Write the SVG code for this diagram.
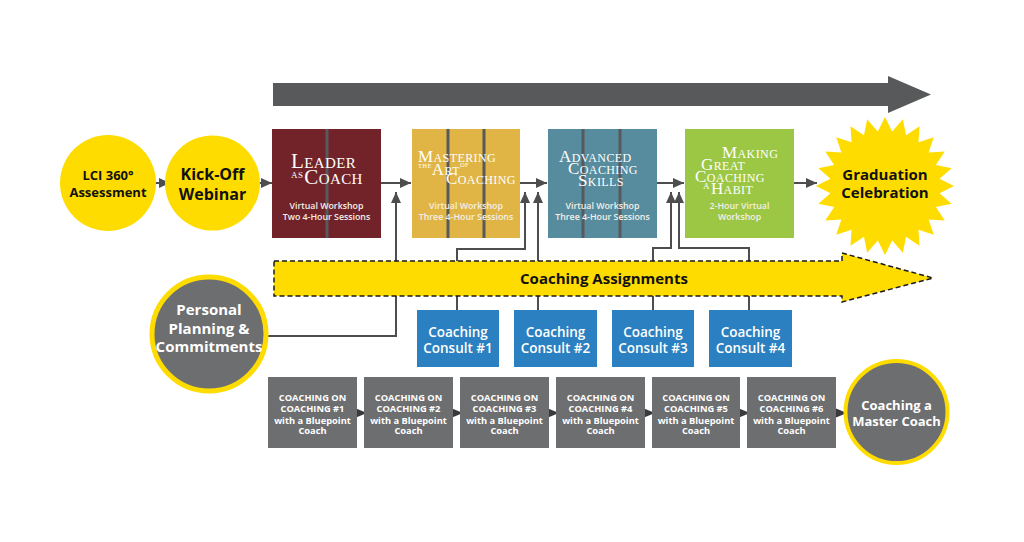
<svg xmlns="http://www.w3.org/2000/svg" width="1024" height="542" viewBox="0 0 1024 542">
<defs>
<marker id="ah" markerUnits="userSpaceOnUse" markerWidth="12" markerHeight="10" refX="11" refY="5" orient="auto">
<path d="M0,0 L11,5 L0,10 Z" fill="#4d4d4f"/>
</marker>
<marker id="ahs" markerUnits="userSpaceOnUse" markerWidth="12" markerHeight="10" refX="11" refY="5" orient="auto">
<path d="M0,0.5 L11,5 L0,9.5 Z" fill="#3a3a3c"/>
</marker>
<style>
.con{fill:none;stroke:#4d4d4f;stroke-width:2;}
.cs{fill:none;stroke:#3a3a3c;stroke-width:2;}
.sans{font-family:"Open Sans","DejaVu Sans",sans-serif;font-weight:700;}
.blk{fill:#111;}
.wht{fill:#fff;}
.sub{font-family:"Open Sans","DejaVu Sans",sans-serif;font-weight:600;font-size:8.8px;fill:#f4efe8;text-anchor:middle;}
.ttl{font-family:"Liberation Serif","Times New Roman",serif;fill:#fff;letter-spacing:0.4px;}
.big{font-size:17px;}
.sm{font-size:12px;}
.tiny{font-size:6.5px;}
.div{stroke:#58595b;stroke-width:3;}
.gb{fill:#6d6e70;}
.gt{font-family:"Open Sans","DejaVu Sans",sans-serif;font-weight:700;font-size:9.3px;fill:#fff;text-anchor:middle;}
.cb{fill:#2a80c0;}
.ct{font-family:"Open Sans","DejaVu Sans",sans-serif;font-weight:600;font-size:13.5px;fill:#fff;text-anchor:middle;}
</style>
</defs>
<rect width="1024" height="542" fill="#fff"/>

<g id="timeline">
<polygon points="273,83 888,83 888,76 931,94.5 888,113 888,106 273,106" fill="#58595b"/>
</g>

<g id="connectors">
<path class="con" d="M152,183 H170" marker-end="url(#ah)"/>
<path class="con" d="M256,183 H272" marker-end="url(#ah)"/>
<path class="con" d="M381,183 H411" marker-end="url(#ah)"/>
<path class="con" d="M520,183 H547" marker-end="url(#ah)"/>
<path class="con" d="M657,183 H684" marker-end="url(#ah)"/>
<path class="con" d="M794,183 H817" marker-end="url(#ah)"/>
<path class="con" d="M268,336 H396 V192" marker-end="url(#ah)"/>
<path class="con" d="M457,310 V249 H525 V192" marker-end="url(#ah)"/>
<path class="con" d="M538,310 V192" marker-end="url(#ah)"/>
<path class="con" d="M653,310 V248 H671 V192" marker-end="url(#ah)"/>
<path class="con" d="M749,310 V248 H679 V192" marker-end="url(#ah)"/>
<path class="cs" d="M352,413 H367" marker-end="url(#ahs)"/>
<path class="cs" d="M448,413 H463" marker-end="url(#ahs)"/>
<path class="cs" d="M544,413 H559" marker-end="url(#ahs)"/>
<path class="cs" d="M640,413 H655" marker-end="url(#ahs)"/>
<path class="cs" d="M735,413 H750" marker-end="url(#ahs)"/>
<path class="cs" d="M832,413 H847" marker-end="url(#ahs)"/>
</g>

<g id="lci">
<circle cx="108" cy="183" r="48" fill="#ffdc00"/>
<text class="sans blk" font-size="13" text-anchor="middle" x="108" y="180">LCI 360°</text>
<text class="sans blk" font-size="13" text-anchor="middle" x="108" y="197">Assessment</text>
</g>

<g id="kickoff">
<circle cx="212.5" cy="183" r="47.5" fill="#ffdc00"/>
<text class="sans blk" font-size="16" text-anchor="middle" x="212.5" y="180">Kick-Off</text>
<text class="sans blk" font-size="16" text-anchor="middle" x="212.5" y="200">Webinar</text>
</g>

<g id="leader">
<rect x="272" y="129" width="109" height="109" fill="#72232a"/>
<line class="div" x1="327" y1="129" x2="327" y2="238"/>
<text class="ttl"><tspan x="291" y="168" font-size="21">L</tspan><tspan font-size="15">EADER</tspan><tspan x="291" y="178" font-size="9">AS</tspan><tspan font-size="21" dx="1" y="184">C</tspan><tspan font-size="15">OACH</tspan></text>
<text class="sub"><tspan x="326.5" y="209">Virtual Workshop</tspan><tspan x="326.5" y="220">Two 4-Hour Sessions</tspan></text>
</g>

<g id="mastering">
<rect x="412" y="129" width="108" height="109" fill="#e0b545"/>
<line class="div" x1="448" y1="129" x2="448" y2="238"/>
<line class="div" x1="484" y1="129" x2="484" y2="238"/>
<text class="ttl"><tspan class="big" x="418" y="162">M</tspan><tspan class="sm">ASTERING</tspan><tspan class="tiny" x="418" y="168">THE</tspan><tspan class="big" y="175">A</tspan><tspan class="sm">RT</tspan><tspan class="tiny" y="167">OF</tspan><tspan class="big" x="446" y="184">C</tspan><tspan class="sm">OACHING</tspan></text>
<text class="sub"><tspan x="466" y="209">Virtual Workshop</tspan><tspan x="466" y="220">Three 4-Hour Sessions</tspan></text>
</g>

<g id="advanced">
<rect x="548" y="129" width="109" height="109" fill="#568c9d"/>
<line class="div" x1="583" y1="129" x2="583" y2="238"/>
<line class="div" x1="620" y1="129" x2="620" y2="238"/>
<text class="ttl"><tspan class="big" x="559" y="162">A</tspan><tspan class="sm">DVANCED</tspan><tspan class="big" x="568" y="174">C</tspan><tspan class="sm">OACHING</tspan><tspan class="big" x="578" y="186">S</tspan><tspan class="sm">KILLS</tspan></text>
<text class="sub"><tspan x="602.5" y="209">Virtual Workshop</tspan><tspan x="602.5" y="220">Three 4-Hour Sessions</tspan></text>
</g>

<g id="making">
<rect x="685" y="129" width="109" height="109" fill="#9cc744"/>
<text class="ttl"><tspan class="big" x="722" y="158">M</tspan><tspan class="sm">AKING</tspan><tspan class="big" x="701" y="170">G</tspan><tspan class="sm">REAT</tspan><tspan class="big" x="695" y="182">C</tspan><tspan class="sm">OACHING</tspan><tspan font-size="9" x="703" y="189">A</tspan><tspan class="big" dx="1" y="194">H</tspan><tspan class="sm">ABIT</tspan></text>
<text class="sub"><tspan x="739.5" y="209">2-Hour Virtual</tspan><tspan x="739.5" y="220">Workshop</tspan></text>
</g>

<g id="graduation">
<polygon fill="#ffdc00" points="954,186 939.53,193.18 951.65,203.86 935.81,207.05 944.76,220.5 928.63,219.48 933.79,234.79 918.48,229.63 919.5,245.76 906.05,236.81 902.86,252.65 892.18,240.53 885,255 877.82,240.53 867.14,252.65 863.95,236.81 850.5,245.76 851.52,229.63 836.21,234.79 841.37,219.48 825.24,220.5 834.19,207.05 818.35,203.86 830.47,193.18 816,186 830.47,178.82 818.35,168.14 834.19,164.95 825.24,151.5 841.37,152.52 836.21,137.21 851.52,142.37 850.5,126.24 863.95,135.19 867.14,119.35 877.82,131.47 885,117 892.18,131.47 902.86,119.35 906.05,135.19 919.5,126.24 918.48,142.37 933.79,137.21 928.63,152.52 944.76,151.5 935.81,164.95 951.65,168.14 939.53,178.82"/>
<text class="sans blk" font-size="15" text-anchor="middle" x="885" y="180">Graduation</text>
<text class="sans blk" font-size="15" text-anchor="middle" x="885" y="198">Celebration</text>
</g>

<g id="assignments">
<path d="M274,261 H842 V253 L933,278 L842,302 V296 H274 Z" fill="#ffdc00" stroke="#1a1a1a" stroke-width="1.5" stroke-dasharray="5,3"/>
<text class="sans blk" font-size="15" text-anchor="middle" x="604" y="283.5">Coaching Assignments</text>
</g>

<g id="personal">
<circle cx="209" cy="334" r="57" fill="#6d6e70" stroke="#ffdc00" stroke-width="5"/>
<text class="sans wht" font-size="15" font-weight="600" text-anchor="middle" x="209" y="315">Personal</text>
<text class="sans wht" font-size="15" font-weight="600" text-anchor="middle" x="209" y="334">Planning &amp;</text>
<text class="sans wht" font-size="15" font-weight="600" text-anchor="middle" x="209" y="352">Commitments</text>
</g>

<g id="consult1"><rect class="cb" x="417" y="310" width="82" height="57"/><text class="ct" x="458" y="337">Coaching</text><text class="ct" x="458" y="353">Consult #1</text></g>
<g id="consult2"><rect class="cb" x="514" y="310" width="83" height="57"/><text class="ct" x="555.5" y="337">Coaching</text><text class="ct" x="555.5" y="353">Consult #2</text></g>
<g id="consult3"><rect class="cb" x="612" y="310" width="82" height="57"/><text class="ct" x="653" y="337">Coaching</text><text class="ct" x="653" y="353">Consult #3</text></g>
<g id="consult4"><rect class="cb" x="709" y="310" width="83" height="57"/><text class="ct" x="750.5" y="337">Coaching</text><text class="ct" x="750.5" y="353">Consult #4</text></g>

<g id="coc1"><rect class="gb" x="268" y="377" width="89" height="71"/><text class="gt" x="312.5" y="400.5">COACHING ON</text><text class="gt" x="312.5" y="412">COACHING #1</text><text class="gt" x="312.5" y="423.5">with a Bluepoint</text><text class="gt" x="312.5" y="434">Coach</text></g>
<g id="coc2"><rect class="gb" x="364" y="377" width="89" height="71"/><text class="gt" x="408.5" y="400.5">COACHING ON</text><text class="gt" x="408.5" y="412">COACHING #2</text><text class="gt" x="408.5" y="423.5">with a Bluepoint</text><text class="gt" x="408.5" y="434">Coach</text></g>
<g id="coc3"><rect class="gb" x="460" y="377" width="89" height="71"/><text class="gt" x="504.5" y="400.5">COACHING ON</text><text class="gt" x="504.5" y="412">COACHING #3</text><text class="gt" x="504.5" y="423.5">with a Bluepoint</text><text class="gt" x="504.5" y="434">Coach</text></g>
<g id="coc4"><rect class="gb" x="556" y="377" width="89" height="71"/><text class="gt" x="600.5" y="400.5">COACHING ON</text><text class="gt" x="600.5" y="412">COACHING #4</text><text class="gt" x="600.5" y="423.5">with a Bluepoint</text><text class="gt" x="600.5" y="434">Coach</text></g>
<g id="coc5"><rect class="gb" x="652" y="377" width="88" height="71"/><text class="gt" x="696" y="400.5">COACHING ON</text><text class="gt" x="696" y="412">COACHING #5</text><text class="gt" x="696" y="423.5">with a Bluepoint</text><text class="gt" x="696" y="434">Coach</text></g>
<g id="coc6"><rect class="gb" x="747" y="377" width="89" height="71"/><text class="gt" x="791.5" y="400.5">COACHING ON</text><text class="gt" x="791.5" y="412">COACHING #6</text><text class="gt" x="791.5" y="423.5">with a Bluepoint</text><text class="gt" x="791.5" y="434">Coach</text></g>

<g id="master">
<circle cx="896.5" cy="412" r="51" fill="#6d6e70" stroke="#ffdc00" stroke-width="4"/>
<text class="sans wht" font-size="13" font-weight="600" text-anchor="middle" x="896.5" y="409.5">Coaching a</text>
<text class="sans wht" font-size="13" font-weight="600" text-anchor="middle" x="896.5" y="426">Master Coach</text>
</g>
</svg>
